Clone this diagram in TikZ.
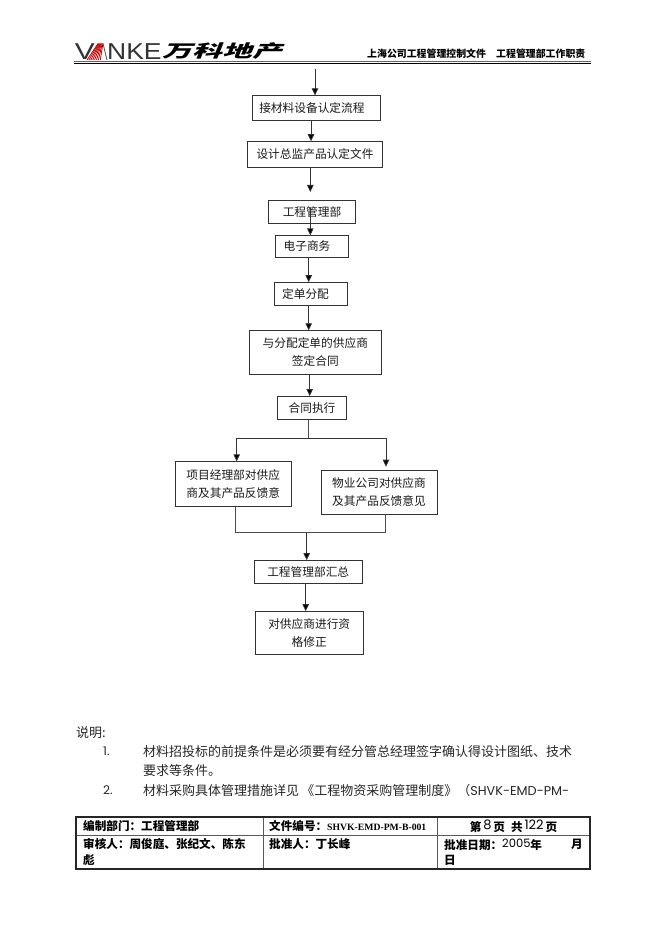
\documentclass[tikz,border=0pt]{standalone}
\usepackage{fontspec}
\setmainfont{Noto Sans CJK SC}
\newfontfamily\latinfont{Poppins}
\newfontfamily\logofont{Liberation Sans}
\newfontfamily\serifbold{Liberation Serif}
\usetikzlibrary{arrows.meta}
\newcommand{\numtxt}[2]{\raisebox{#2}{\latinfont\mdseries\fontsize{#1}{14}\selectfont}}
\newcommand{\bumpnum}[2]{\raisebox{2pt}{\latinfont\mdseries\fontsize{#1}{14}\selectfont #2}}
\tikzset{
  flowbox/.style={draw=black!80,line width=0.8pt,minimum width=#1,inner sep=0pt,align=center,font=\fontsize{11.7}{18}\selectfont,text=black!90},
  flowarrow/.style={draw=black!80,line width=0.8pt,-{Triangle[length=7pt,width=6.5pt,fill=black]}},
  flowline/.style={draw=black!70,line width=0.8pt},
  note/.style={anchor=west,inner sep=0pt,font=\fontsize{13}{14}\selectfont,text=black!85},
  cell/.style={anchor=west,inner sep=0pt,font=\bfseries\fontsize{11.6}{14}\selectfont},
  rulecell/.style={draw=black!65,line width=0.9pt},
  logotxt/.style={anchor=west,inner sep=0pt,font=\logofont\fontsize{23}{23}\selectfont,text=black!80,transform shape}
}
\begin{document}
\begin{tikzpicture}[x=1pt,y=-1pt]
\useasboundingbox (0,0) rectangle (662,936);
% header
\node[logotxt,xscale=1.3] (lgv) at (74.5,51.5) {V};
\foreach \i in {0,...,7}{\draw[red!75!black,line width=0.8pt] (87+\i*1.9,60)--(98+\i*0.7,43.5);}
\draw[black!70,line width=0.8pt] (103,43.5)--(107,60);
\node[logotxt,xscale=1.15] (lgn) at (107,51.5) {NKE};
\node[anchor=west,inner sep=0pt,font=\bfseries\fontsize{21}{21}\selectfont,xslant=0.4,xscale=1.42,yscale=0.82,transform shape] (lgc) at (165,51) {万科地产};
\node[anchor=west,inner sep=0pt,font=\bfseries\fontsize{9.9}{10}\selectfont] (hd1) at (367,53.5) {上海公司工程管理控制文件};
\node[anchor=west,inner sep=0pt,font=\bfseries\fontsize{9.9}{10}\selectfont] (hd2) at (496,53.5) {工程管理部工作职责};
\draw[black!60,line width=1.3pt] (74,61.7)--(591,61.7);
\draw[black,line width=0.7pt] (74,63.7)--(591,63.7);
% flow boxes
\node[flowbox=127.5pt,minimum height=24.5pt] (b1) at (316.4,108) {接材料设备认定流程\hspace{9pt}};
\node[flowbox=134.5pt,minimum height=25.5pt] (b2) at (315,154.4) {设计总监产品认定文件};
\node[flowbox=86.5pt,minimum height=22.5pt] (b3) at (312,212) {工程管理部};
\node[flowbox=73pt,minimum height=21.5pt] (b4) at (311.5,246.5) {电子商务\hspace{9pt}};
\node[flowbox=73pt,minimum height=22.5pt] (b5) at (310.5,293.8) {定单分配\hspace{10pt}};
\node[flowbox=132.5pt,minimum height=43.5pt] (b6) at (315.3,352.4) {与分配定单的供应商\\签定合同};
\node[flowbox=68.5pt,minimum height=22.5pt] (b7) at (312,408) {合同执行};
\node[flowbox=115.5pt,minimum height=44.5pt] (b8) at (233.2,484) {项目经理部对供应\\商及其产品反馈意};
\node[flowbox=116pt,minimum height=44.5pt] (b9) at (379,492.5) {物业公司对供应商\\及其产品反馈意见};
\node[flowbox=107.5pt,minimum height=22.5pt] (b10) at (308.2,571.8) {工程管理部汇总};
\node[flowbox=107.5pt,minimum height=42.5pt] (b11) at (309.2,632.8) {对供应商进行资\\格修正};
% free coordinates
\coordinate (topin) at (315,69);
\coordinate (out2) at (310.3,192);
\coordinate (in3) at (310.3,208);
\coordinate (out6) at (309.7,396);
\coordinate (split) at (308.3,438.3);
\coordinate (merge) at (306.7,532.7);
% connectors
\draw[flowarrow] (topin) -- (topin |- b1.north);
\draw[flowarrow] (311,0 |- b1.south) -- (311,0 |- b2.north);
\draw[flowarrow] (out2 |- b2.south) -- (out2);
\draw[flowarrow] (in3) -- (in3 |- b4.north);
\draw[flowarrow] (308.7,0 |- b4.south) -- (308.7,0 |- b5.north);
\draw[flowarrow] (308.7,0 |- b5.south) -- (308.7,0 |- b6.north);
\draw[flowarrow] (out6 |- b6.south) -- (out6);
\draw[flowline] (split |- b7.south) -- (split);
\draw[flowarrow] (split) -| (236.7,0 |- b8.north);
\draw[flowarrow] (split) -| (386,466.7);
\draw[flowline] (235,0 |- b8.south) |- (merge);
\draw[flowline] (385.3,0 |- b9.south) |- (merge);
\draw[flowarrow] (merge) -- (merge |- b10.north);
\draw[flowarrow] (305.7,0 |- b10.south) -- (305.7,0 |- b11.north);
% notes
\node[note] (n0) at (76,733) {说明:};
\node[note,font=\latinfont\fontsize{12}{14}\selectfont] (n1) at (103,751) {1.};
\node[note] (n1t) at (143,751.5) {材料招投标的前提条件是必须要有经分管总经理签字确认得设计图纸、技术};
\node[note] (n1u) at (143,771) {要求等条件。};
\node[note,font=\latinfont\fontsize{12}{14}\selectfont] (n2) at (103,790) {2.};
\node[note] (n2t) at (143,790.5) {材料采购具体管理措施详见\,《工程物资采购管理制度》（{\latinfont\fontsize{12.8}{14}\selectfont SHVK-EMD-PM-}};
% table
\draw[rulecell] (76,835.5) -- (590,835.5);
\draw[rulecell] (263,817) -- (263,869);
\draw[rulecell] (437,817) -- (437,869);
\draw[black!85,line width=1.5pt] (76,817) rectangle (590,869);
\node[cell] (t1) at (83,826.5) {编制部门：工程管理部};
\node[cell] (t2) at (269,826.5) {文件编号：{\serifbold\bfseries\fontsize{9.7}{10}\selectfont SHVK-EMD-PM-B-001}};
\node[cell,anchor=center] (t3) at (513.5,826.5) {第\,\bumpnum{13}{8}\,页\hspace{6pt}共\,\bumpnum{13}{122}\,页};
\node[cell] (t4) at (83,844.5) {审核人：周俊庭、张纪文、陈东};
\node[cell] (t5) at (83,860) {彪};
\node[cell] (t6) at (269,844.5) {批准人：丁长峰};
\node[cell] (t7) at (444,844.5) {批准日期：\bumpnum{11.5}{2005}年};
\node[cell] (t8) at (571,844.5) {月};
\node[cell] (t9) at (444,860) {日};
\end{tikzpicture}
\end{document}
